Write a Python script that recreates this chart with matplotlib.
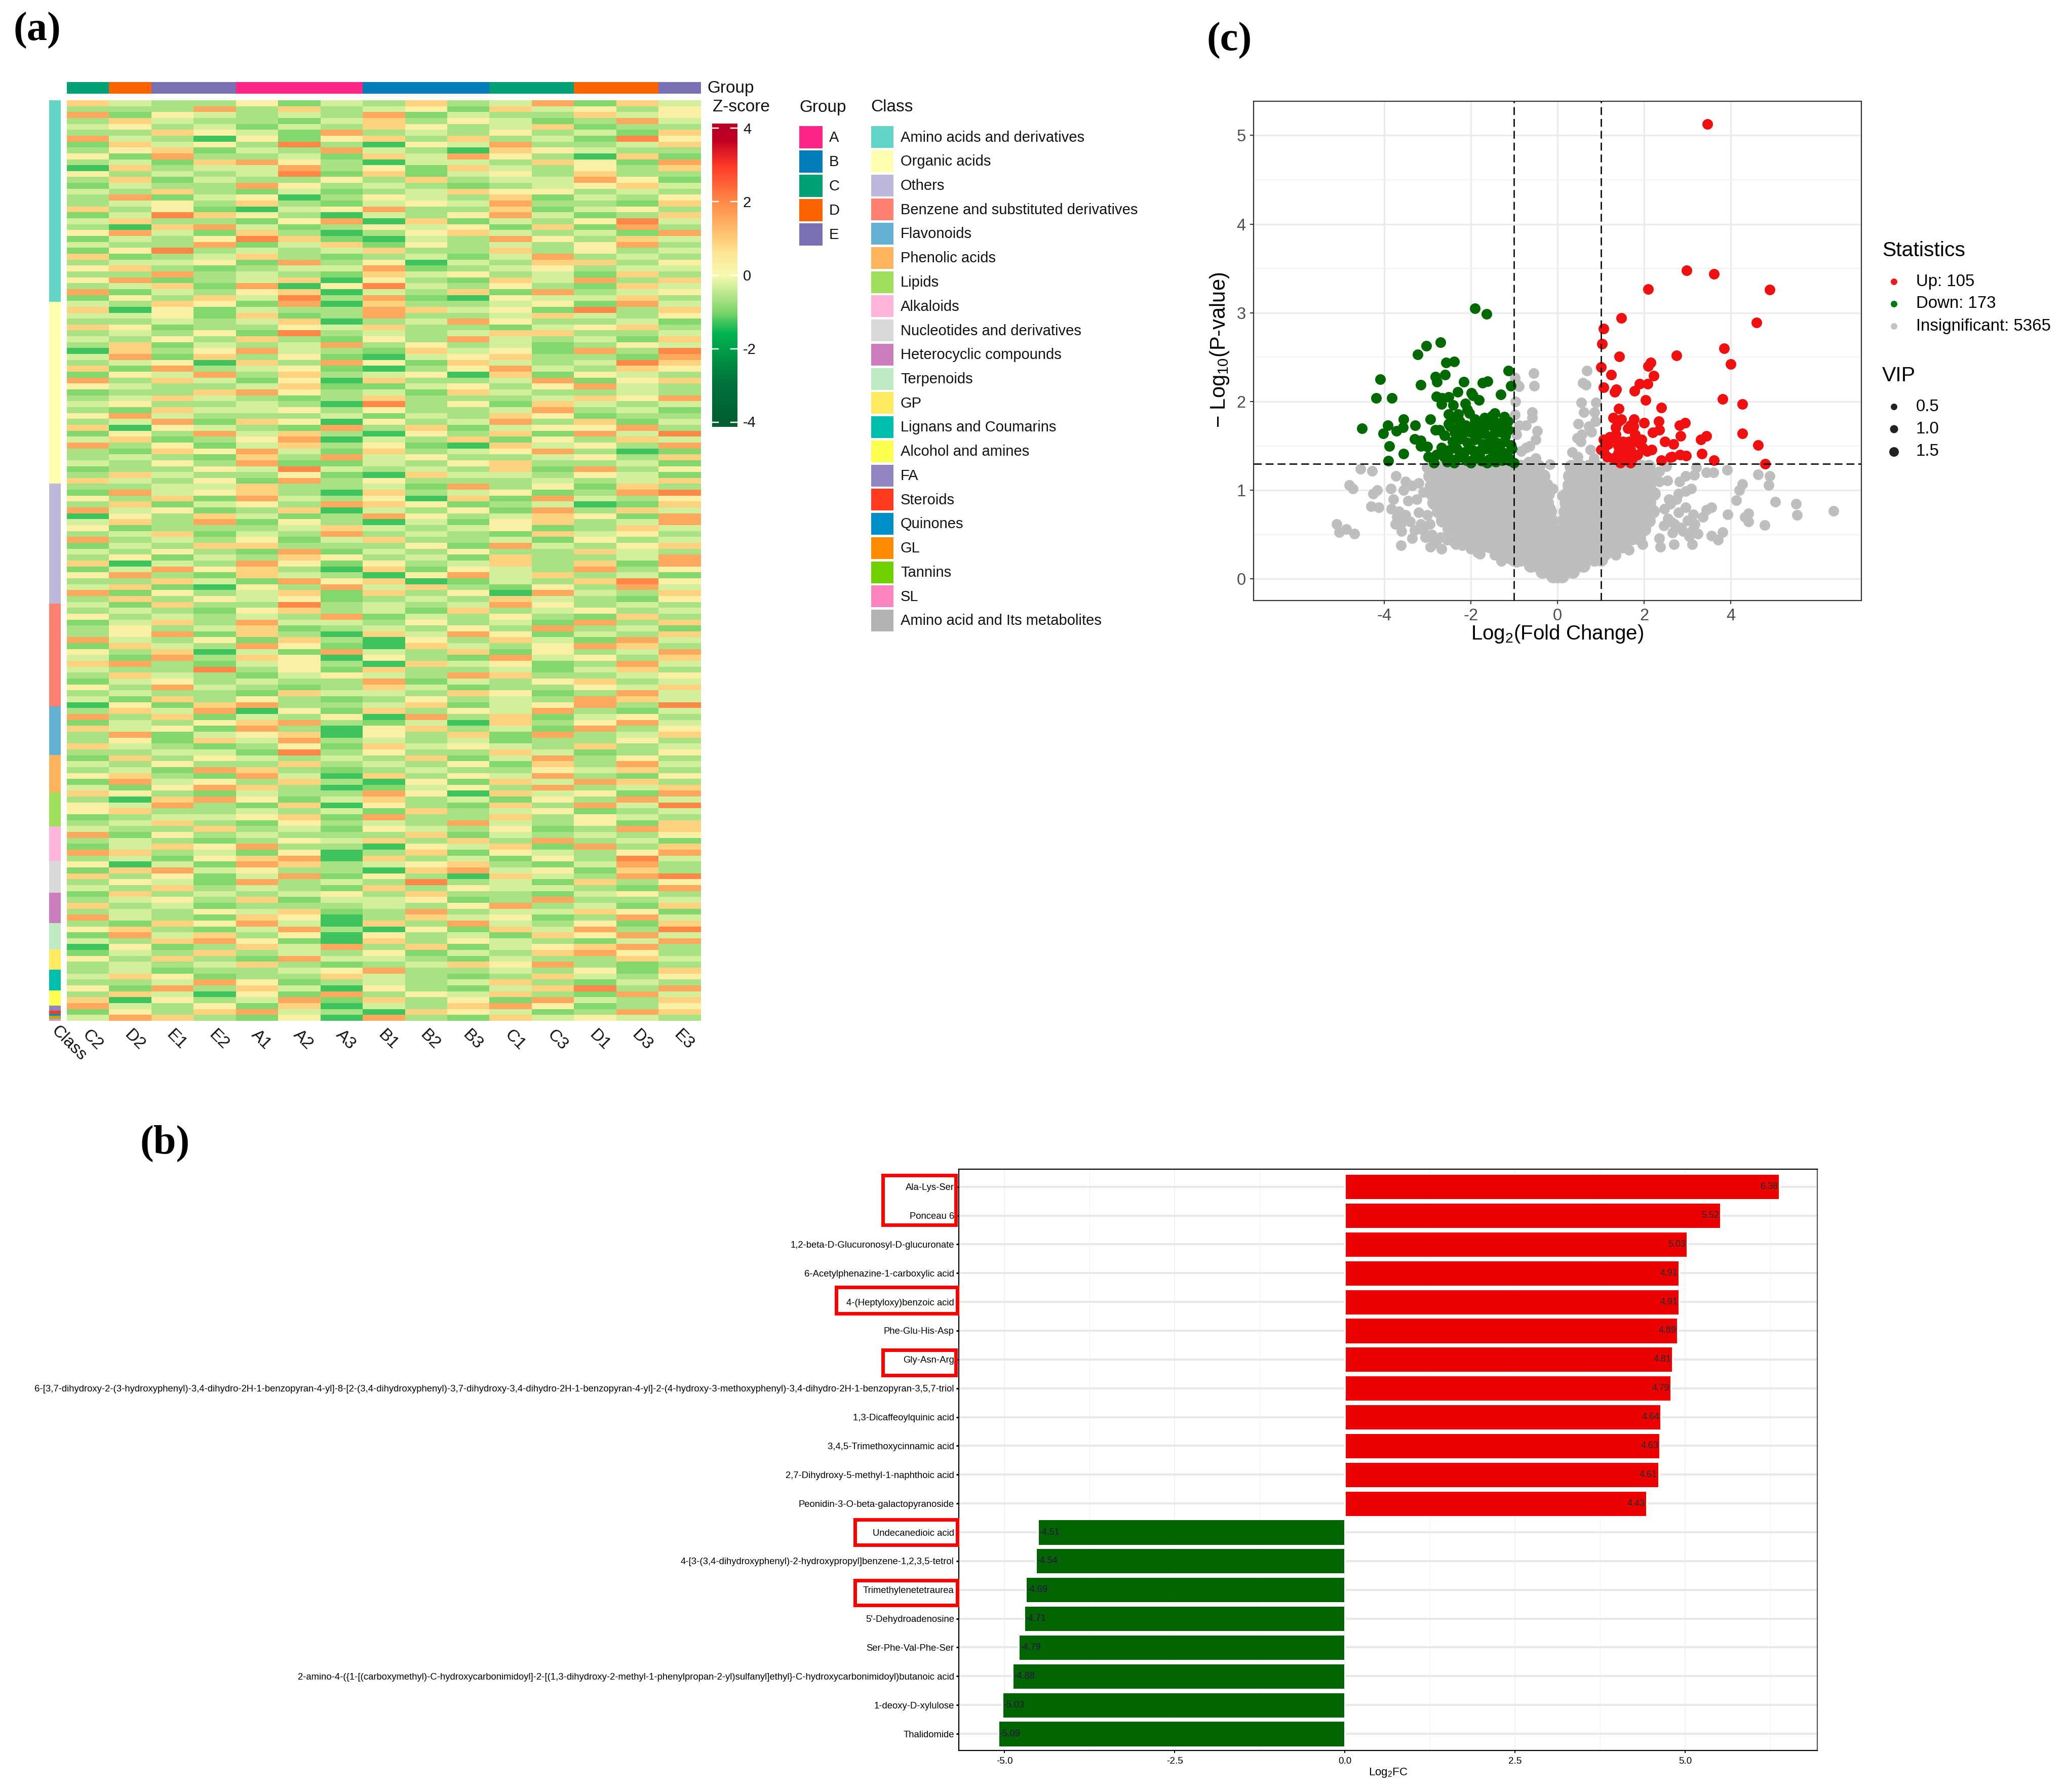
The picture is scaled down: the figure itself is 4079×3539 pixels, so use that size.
import numpy as np
import matplotlib
matplotlib.use("Agg")
import matplotlib.pyplot as plt
from matplotlib.colors import LinearSegmentedColormap, Normalize, ListedColormap
from matplotlib.patches import Rectangle

plt.rcParams['font.family'] = ['Liberation Sans', 'DejaVu Sans']
plt.rcParams['mathtext.fontset'] = 'custom'
plt.rcParams['mathtext.rm'] = 'Liberation Sans'
plt.rcParams['mathtext.default'] = 'regular'
plt.rcParams['axes.unicode_minus'] = False

W, H = 4080, 3539
PX = 0.72  # one output pixel in points at dpi 100

# ---------- (a) heatmap data ----------
samples = ["C2","D2","E1","E2","A1","A2","A3","B1","B2","B3","C1","C3","D1","D3","E3"]
sample_groups = ["C","D","E","E","A","A","A","B","B","B","C","C","D","D","E"]
group_names = ["A","B","C","D","E"]
group_colors = ["#FF2488","#007CB8","#00A075","#FB6200","#7970B4"]
class_names = ["Amino acids and derivatives","Organic acids","Others","Benzene and substituted derivatives",
    "Flavonoids","Phenolic acids","Lipids","Alkaloids","Nucleotides and derivatives","Heterocyclic compounds",
    "Terpenoids","GP","Lignans and Coumarins","Alcohol and amines","FA","Steroids","Quinones","GL","Tannins","SL",
    "Amino acid and Its metabolites"]
class_counts = [1235,1114,735,630,298,230,208,211,195,186,161,127,127,93,31,19,12,9,9,9,3]
class_colors = ["#62D5C8","#FFFFB0","#BEB8DA","#FF7F70","#64B0D3","#FFB35C","#A0E05C","#FFB4D9","#D9D9D9","#CB7DBE",
    "#BEEBC4","#FFEA60","#00BFAE","#FFFF50","#9085C0","#FF3A20","#008FC8","#FF8A00","#70D000","#FF85C0","#B3B3B3"]
# estimated stripe levels, one string per row, one digit per sample (top to bottom); index into z_levels
z_levels = [-1.9,-1.3,-0.95,-0.65,-0.3,0.3,0.9,1.5,2.0,2.8]
heat_rows = """
643352436347264 333736345264535 725434372433645 364332463542374 453424365346233 336542734353426
743152563634285 264538315473346 356243743165433 527334264753162 342675314436527 163447352643536
534348262453633 362433536344752 243375343234564 436324234655343 372451354362435 345363245473326
635214573362453 248653143574236 463325716243584 316742354526273 574263135643427 243586214375364
433724625343573 258343463363534 623463234247343 344527351436635 563234472345344 337343264534263
572346153264736 346271584353264 724356143627345 253648372154463 436527163345274 615243376452836
445262373346435 334346134753342 652335463324563 343528343466334 435363253743426 362434735342354
163574326452738 472635214563327 345163752643486 627345213574365 254736345162543 736425163347256
543346224535743 233675342643343 346432363334657 453343183526434 326445353347342 574333424365233
347265153473624 615432736245573 253746315362748 462357143625364 735246352164537 326574263457312
343263745334536 435372243563342 233548434362735 364335216443542 643527353334346 334463342735263
274563163452378 536274351627435 362453765234126 745236143527364 153642375346527 463725314256347
523334643452364 346243734326453 734352463342534 243663335274356 435327243533643 352436534263347
614375253463627 247563162543735 573264315746342 336427561243685 462153746325374 725346263517436
363545234364325 426338343475343 343256342634534 534343724353263 246374435342736 353462343537342
357263164752436 743526315364274 264375216435763 536142743625347 427365153274536 673245316452374
433835263342463 364324543763345 245343372435634 537432364233546 343326443652374 426353235343764
152673346245738 364715263547324 736243517362453 243567324163574 645273156342735 372456153627346
352647343423353 643235264543634 334428353364235 263543436247353 435336343526374 342763234335463
563274163547325 274536315264763 425763124537346 653243375164527 316752463425374 547326153263748
563343426345234 234456273363543 346325343743526 433634254352376 725343336243435 343235463637342
246573315462736 763425136254357 342567163425384 514276345632473 267453316745263 635247253164378
354273438342635 436343263544327 263434536332453 345362445237334 634233343573426 343546237344652
743265136452374 326574163743526 563247315264738 274635153426574 436752163543247 152364736245673
243634352436753 536327443243364 343463234657323 342334573343526 465233643236435 334752343463243
527364153246837 364152735463274 615347263527436 743526143675235 253674316542376 476325173264543
"""
heat_rows = heat_rows.split()

cmap_z = LinearSegmentedColormap.from_list("zscore", [
    (0.000,"#005F2E"),(0.125,"#00703A"),(0.300,"#00B34F"),(0.375,"#7ED66A"),
    (0.500,"#F7FAB0"),(0.575,"#FFE596"),(0.625,"#FFCC78"),(0.750,"#FF8A48"),
    (0.875,"#FF3A28"),(0.962,"#C00022"),(1.000,"#B80024")])

# ---------- (b) bar chart data ----------
bar_names = ["Ala-Lys-Ser","Ponceau 6","1,2-beta-D-Glucuronosyl-D-glucuronate","6-Acetylphenazine-1-carboxylic acid",
    "4-(Heptyloxy)benzoic acid","Phe-Glu-His-Asp","Gly-Asn-Arg",
    "6-[3,7-dihydroxy-2-(3-hydroxyphenyl)-3,4-dihydro-2H-1-benzopyran-4-yl]-8-[2-(3,4-dihydroxyphenyl)-3,7-dihydroxy-3,4-dihydro-2H-1-benzopyran-4-yl]-2-(4-hydroxy-3-methoxyphenyl)-3,4-dihydro-2H-1-benzopyran-3,5,7-triol",
    "1,3-Dicaffeoylquinic acid","3,4,5-Trimethoxycinnamic acid","2,7-Dihydroxy-5-methyl-1-naphthoic acid",
    "Peonidin-3-O-beta-galactopyranoside","Undecanedioic acid","4-[3-(3,4-dihydroxyphenyl)-2-hydroxypropyl]benzene-1,2,3,5-tetrol",
    "Trimethylenetetraurea","5'-Dehydroadenosine","Ser-Phe-Val-Phe-Ser",
    "2-amino-4-({1-[(carboxymethyl)-C-hydroxycarbonimidoyl]-2-[(1,3-dihydroxy-2-methyl-1-phenylpropan-2-yl)sulfanyl]ethyl}-C-hydroxycarbonimidoyl)butanoic acid",
    "1-deoxy-D-xylulose","Thalidomide"]
bar_values = [6.38,5.52,5.03,4.91,4.91,4.89,4.81,4.79,4.64,4.63,4.61,4.43,-4.51,-4.54,-4.69,-4.71,-4.79,-4.88,-5.03,-5.09]
bar_ticks = [-5.0,-2.5,0.0,2.5,5.0]

# ---------- (c) volcano data ----------
up_x = [3.46,2.98,3.61,4.89,2.09,1.47,4.59,1.06,1.03,3.84,1.42,2.74,2.15,2.09,4.0,1.0,1.24,2.22,1.89,2.08,1.06,1.35,1.32,1.78,3.81,2.03,4.26,2.40,1.41,
        2.95,2.82,2.34,2.0,1.77,1.29,1.41,1.68,1.34,2.35,2.2,4.26,3.43,3.31,2.84,2.48,2.67,4.63,3.33,3.61,4.79,2.97,2.83,2.64,2.39,1.94,1.79,2.07,1.9,1.65,
        1.40,1.51,1.28,1.06,1.06,1.14,1.73,1.68,1.51,1.40,1.17,1.62,1.79,2.17,1.01,1.96,1.56,1.34,1.68,1.28,1.45,1.68,1.20,1.55,1.85,1.10,2.60,1.75,1.47]
up_y = [5.13,3.48,3.44,3.26,3.27,2.94,2.89,2.82,2.65,2.60,2.51,2.52,2.44,2.40,2.42,2.39,2.30,2.29,2.20,2.20,2.16,2.14,2.11,2.12,2.03,2.02,1.97,1.93,1.92,
        1.76,1.73,1.78,1.76,1.80,1.82,1.78,1.73,1.71,1.68,1.65,1.64,1.61,1.57,1.61,1.55,1.52,1.51,1.41,1.34,1.30,1.39,1.40,1.38,1.34,1.57,1.59,1.44,1.52,1.55,
        1.50,1.55,1.59,1.57,1.44,1.38,1.36,1.46,1.36,1.42,1.52,1.70,1.63,1.46,1.46,1.48,1.48,1.63,1.52,1.36,1.31,1.31,1.60,1.42,1.40,1.50,1.37,1.72,1.80]
down_x = [-1.91,-1.64,-2.70,-3.03,-3.23,-2.38,-2.57,-1.13,-2.59,-2.82,-4.09,-2.78,-3.15,-2.16,-1.61,-1.73,-1.08,-2.30,-1.99,-1.95,-1.31,-4.18,-3.82,-2.79,-2.66,-2.51,-1.81,-2.68,-2.41,-2.13,
          -2.08,-2.03,-2.51,-2.29,-1.45,-1.23,-1.68,-1.51,-2.93,-3.55,-4.51,-3.91,-3.28,-3.56,-3.72,-4.02,-2.82,-2.51,-2.2,-1.98,-3.30,-3.16,-3.16,-3.88,-3.0,-3.55,-3.9,-2.98,-2.79,
          -2.62,-2.45,-2.28,-2.1,-1.92,-1.75,-1.58,-1.42,-1.27,-1.12,-1.05,-2.68,-2.5,-2.33,-2.15,-1.98,-1.82,-1.65,-1.48,-1.32,-1.17,-2.42,-2.25,-2.08,-1.9,-1.72,-1.55,-1.38,-1.22,-1.08,
          -2.6,-2.37,-2.2,-2.02,-1.85,-1.68,-1.5,-1.35,-1.2,-2.72,-2.48,-2.3,-2.12,-1.95,-1.78,-1.6,-1.45,-1.28,-1.13,-2.55,-2.38,-2.18,-2.0,-1.8,-1.62,-1.43,-1.25,-1.1,-1.55,-1.7,-1.4,-1.6,-1.48,-1.35,
          -2.85,-2.4,-2.25,-1.9,-1.72,-1.52,-1.15,-1.0]
down_y = [3.05,2.99,2.67,2.63,2.53,2.45,2.44,2.35,2.30,2.28,2.25,2.22,2.19,2.22,2.23,2.21,2.18,2.11,2.10,2.07,2.08,2.04,2.04,2.06,2.04,2.05,2.02,1.97,1.96,1.98,
          1.91,1.87,1.86,1.86,1.87,1.83,1.82,1.84,1.80,1.80,1.70,1.73,1.73,1.71,1.67,1.64,1.68,1.75,1.74,1.72,1.58,1.56,1.50,1.50,1.49,1.41,1.33,1.38,1.40,
          1.38,1.35,1.37,1.34,1.36,1.33,1.35,1.38,1.34,1.36,1.47,1.48,1.45,1.47,1.43,1.46,1.44,1.47,1.43,1.45,1.42,1.55,1.58,1.54,1.57,1.52,1.56,1.53,1.55,1.51,
          1.62,1.65,1.63,1.66,1.61,1.64,1.62,1.66,1.61,1.68,1.72,1.70,1.73,1.69,1.71,1.74,1.70,1.73,1.68,1.32,1.31,1.40,1.31,1.40,1.31,1.32,1.40,1.33,1.78,1.78,1.76,1.50,1.52,1.49,
          1.31,1.81,1.78,1.80,1.78,1.80,1.78,1.31]
# scattered insignificant points outside the solid cloud
gray_x = [-0.55,-0.54,-0.98,-0.92,-0.89,-0.97,-0.59,-0.58,-0.98,-0.89,-0.73,-0.47,-0.95,-0.5,-0.64,-0.73,-0.5,-0.84,-0.67,-0.17,
          0.68,0.59,0.66,0.55,0.89,0.61,0.85,0.88,0.48,0.73,0.78,0.45,0.56,0.54,0.76,0.34,0.47,0.84,
          -4.54,-4.28,-3.73,-4.8,-4.72,-3.84,-4.16,-4.25,-3.79,-4.3,-4.12,-3.83,-5.09,-5.03,-4.87,-4.69,-3.66,-3.5,-3.7,-3.74,-3.6,-3.61,-3.35,-3.6,-3.3,-3.4,-3.5,-3.35,-3.55,-3.2,-3.1,-3.25,-3.45,-2.95,-3.02,-2.94,-3.0,-2.9,-2.93,-2.8,-3.2,-2.95,-3.15,-2.68,-2.35,-1.79,-1.45,-1.12,
          6.37,5.5,5.53,5.02,4.9,4.87,4.63,4.26,4.2,4.13,3.91,3.6,3.44,3.2,3.15,2.96,2.82,3.09,2.96,2.79,4.41,4.41,4.32,4.78,3.92,3.55,3.44,3.35,3.17,3.13,3.24,3.55,3.7,3.81,3.11,2.69,3.04,2.35,2.37,2.65,2.9,2.63,2.46,2.79,2.96,3.13,2.57,2.35,2.53,2.26,2.51,2.35,2.12,1.56,1.65,1.34,1.96,
          2.6,2.75,2.55,2.7,2.45,2.85,3.0,-3.05,-2.85,-3.1,-2.7,-2.55,-2.4,-2.2,-2.0,-1.85,-1.3,-0.95,-0.1,0.1,-0.18,0.17,-0.13,0.12]
gray_y = [2.32,2.18,2.27,2.19,2.17,2.0,1.88,1.82,1.85,1.73,1.73,1.67,1.63,1.57,1.5,1.48,1.36,1.44,1.32,1.29,
          2.35,2.21,2.19,1.99,1.99,1.88,1.88,1.78,1.75,1.72,1.66,1.59,1.63,1.55,1.46,1.43,1.38,1.36,
          1.24,1.22,1.16,1.06,1.02,1.02,1.0,.96,.9,.82,.81,.79,.62,.53,.56,.51,.76,.72,.7,.62,.63,.38,.46,.54,.55,.65,1.1,1.05,1.0,1.08,.98,.9,.88,1.05,1.26,1.2,.72,.5,.36,.4,.75,.62,.62,.34,.39,.28,.27,.23,
          .77,.85,.72,.87,1.16,1.06,1.18,1.07,1.0,.89,1.23,1.2,1.2,1.26,1.17,1.16,1.1,1.02,.99,.96,.74,.65,.7,.61,.73,.81,.78,.7,.62,.56,.51,.49,.44,.53,.39,.39,.48,.46,.36,.52,.54,.64,.79,.75,.81,.73,.9,1.1,1.11,1.15,1.27,1.21,1.04,.37,.33,.27,.39,
          .85,.9,.68,.62,.6,.58,.66,.47,.42,.55,.47,.44,.42,.38,.34,.3,.2,.19,1.02,.94,.8,.72,.62,.5]
# solid insignificant cloud, listed as (-log10 p, fold-change values)
gray_rows = [
 (1.27,[-2.85,-2.62,-2.44,-2.25,-2.03,-1.85,-1.66,-1.44,-1.25,-1.06,-.84,-.66,-.44,.32,.52,.73,.91,1.13,1.32,1.52,1.73,1.92,2.1]),
 (1.16,[-2.95,-2.75,-2.55,-2.33,-2.16,-1.95,-1.74,-1.56,-1.35,-1.14,-.95,-.74,-.55,-.33,.28,.42,.63,.82,1.03,1.22,1.43,1.62,1.83,2.02,2.2]),
 (1.06,[-2.85,-2.64,-2.45,-2.24,-2.05,-1.84,-1.65,-1.46,-1.24,-1.05,-.86,-.64,-.45,-.26,.27,.53,.72,.93,1.12,1.33,1.52,1.73,1.93,2.12]),
 (0.96,[-2.9,-2.75,-2.54,-2.36,-2.14,-1.96,-1.75,-1.54,-1.34,-1.16,-.94,-.75,-.54,-.35,-.22,.22,.43,.62,.83,1.02,1.22,1.43,1.63,1.82,2.03,2.22]),
 (0.86,[-2.85,-2.65,-2.46,-2.24,-2.05,-1.84,-1.66,-1.45,-1.24,-1.05,-.84,-.65,-.46,-.24,.2,.33,.52,.73,.92,1.13,1.33,1.52,1.72,1.93,2.12]),
 (0.76,[-2.75,-2.55,-2.35,-2.15,-1.94,-1.75,-1.56,-1.34,-1.15,-.95,-.74,-.55,-.35,-.18,.18,.42,.62,.83,1.03,1.22,1.42,1.63,1.82,2.03,2.2]),
 (0.66,[-2.65,-2.45,-2.26,-2.05,-1.84,-1.65,-1.44,-1.25,-1.05,-.84,-.65,-.45,-.25,-.14,.14,.33,.52,.72,.93,1.12,1.32,1.53,1.73,1.92,2.1]),
 (0.56,[-2.5,-2.35,-2.16,-1.95,-1.74,-1.55,-1.35,-1.14,-.95,-.75,-.54,-.35,-.13,.12,.22,.42,.63,.82,1.03,1.22,1.42,1.63,1.82,2.0]),
 (0.46,[-2.3,-2.05,-1.85,-1.65,-1.44,-1.25,-1.05,-.85,-.65,-.44,-.25,-.1,.1,.33,.52,.73,.92,1.12,1.33,1.53,1.72,1.88]),
 (0.37,[-1.9,-1.75,-1.55,-1.35,-1.16,-.95,-.75,-.54,-.35,-.16,-.06,.06,.22,.42,.63,.82,1.02,1.23,1.5]),
 (0.29,[-1.3,-1.15,-.95,-.75,-.55,-.35,-.2,-.05,.05,.17,.33,.52,.72,.93,1.1]),
 (0.22,[-1.0,-.85,-.65,-.45,-.28,-.12,0.0,.12,.28,.45,.65,.85,1.0]),
 (0.15,[-.62,-.45,-.28,-.12,0.0,.12,.28,.45,.6]),
 (0.08,[-.35,-.2,-.08,.08,.2,.35]),
 (0.03,[-.1,0.0,.1]),
]
vol_yticks = [0,1,2,3,4,5]
vol_xticks = [-4,-2,0,2,4]
fc_cut = 1
p_cut = 1.3

fig = plt.figure(figsize=(W/100, H/100), dpi=100, facecolor="white")

def ax_px(x0, y0, x1, y1, **kw):
    return fig.add_axes([x0/W, 1-y1/H, (x1-x0)/W, (y1-y0)/H], **kw)

# ---------- panel a ----------
ax = ax_px(132, 198, 1384, 2016)
M = np.array([[z_levels[int(c)] for c in r] for r in heat_rows])
ax.imshow(M, aspect="auto", cmap=cmap_z, norm=Normalize(-4, 4), interpolation="nearest")
ax.axis("off")

ax = ax_px(132, 162, 1384, 185)
gi = [group_names.index(g) for g in sample_groups]
ax.imshow([gi], aspect="auto", cmap=ListedColormap(group_colors), vmin=-.5, vmax=4.5, interpolation="nearest")
ax.axis("off")

ax = ax_px(97, 198, 120, 2016)
ax.bar(0, class_counts, bottom=np.r_[0, np.cumsum(class_counts)[:-1]], width=1, color=class_colors, linewidth=0)
ax.set_xlim(-.5, .5); ax.set_ylim(sum(class_counts), 0); ax.axis("off")

ax = ax_px(1406, 244, 1456, 843)
grad = np.linspace(4.13, -4.13, 512)[:, None]
ax.imshow(grad, aspect="auto", cmap=cmap_z, norm=Normalize(-4, 4), extent=[0, 1, -4.13, 4.13])
for v in [-4, -2, 0, 2, 4]:
    ax.plot([0, .25], [v, v], color="white", lw=2.5*PX)
    ax.plot([.75, 1], [v, v], color="white", lw=2.5*PX)
ax.set_xlim(0, 1); ax.set_ylim(-4.13, 4.13); ax.axis("off")

# ---------- panel c ----------
ax = ax_px(2475, 200, 3675, 1186)
ax.set_xlim(-7.01, 7.01); ax.set_ylim(-0.243, 5.385)
ax.set_axisbelow(True)
ax.set_xticks(vol_xticks); ax.set_yticks(vol_yticks)
ax.set_yticks([.5, 1.5, 2.5, 3.5, 4.5], minor=True)
ax.grid(True, which="major", color="#EBEBEB", lw=3.2*PX)
ax.grid(True, which="minor", axis="y", color="#F0F0F0", lw=1.6*PX)
ax.tick_params(which="minor", length=0)
ax.tick_params(which="major", labelsize=23.5, labelcolor="#4D4D4D", color="#333333", width=2*PX, length=7*PX, pad=6)
for s in ax.spines.values():
    s.set_color("#333333"); s.set_linewidth(2.2*PX)
core_x = []; core_y = []
for yy, xs in gray_rows:
    core_x += xs; core_y += [yy]*len(xs)
ax.scatter(gray_x, gray_y, s=21**2*PX**2, color="#BEBEBE", linewidths=0, zorder=2)
ax.scatter(core_x, core_y, s=27**2*PX**2, color="#BEBEBE", linewidths=0, zorder=2)
ax.scatter(down_x, down_y, s=21**2*PX**2, color="#006A00", linewidths=0, zorder=3)
ax.scatter(up_x, up_y, s=21**2*PX**2, color="#F01010", linewidths=0, zorder=3)
for v in [-fc_cut, fc_cut]:
    ax.axvline(v, color="black", lw=2.6*PX, dashes=(6, 3), zorder=4)
ax.axhline(p_cut, color="black", lw=2.6*PX, dashes=(6, 3), zorder=4)

# ---------- panel b ----------
ax = ax_px(1893, 2309, 3588, 3457)
ypos = np.arange(len(bar_values))
ax.set_xlim(-5.67, 6.94); ax.set_ylim(len(bar_values)-1+.58, -.61)
ax.set_axisbelow(True)
ax.set_xticks(bar_ticks); ax.set_xticklabels([f"{t:.1f}" for t in bar_ticks])
ax.set_xticks([-3.75, -1.25, 1.25, 3.75, 6.25], minor=True)
ax.set_yticks(ypos); ax.set_yticklabels(bar_names)
ax.grid(True, which="major", axis="x", color="#EEEEEE", lw=1.6*PX)
ax.grid(True, which="minor", axis="x", color="#F2F2F2", lw=1.4*PX)
ax.grid(True, which="major", axis="y", color="#E8E8E8", lw=4*PX)
ax.tick_params(which="minor", length=0)
ax.tick_params(axis="y", labelsize=13.3, width=3*PX, length=5*PX, pad=3)
ax.tick_params(axis="x", labelsize=13.6, width=2*PX, length=5*PX, pad=6)
colors = ["#EE0000" if v > 0 else "#006400" for v in bar_values]
ax.barh(ypos, bar_values, height=.9, color=colors, edgecolor="white", linewidth=3*PX, zorder=2)
for y, v in zip(ypos, bar_values):
    if v > 0:
        ax.text(v-.02, y, f"{v:.2f}", ha="right", va="center", fontsize=13, color="#1E2E2E", zorder=3)
    else:
        ax.text(v+.02, y, f"{v:.2f}", ha="left", va="center", fontsize=13, color="#30104A", zorder=3)
for s in ax.spines.values():
    s.set_color("black"); s.set_linewidth(2.2*PX)
ax.spines["right"].set_color("#555555")

# ---------- overlay: text, legends, boxes ----------
ov = ax_px(0, 0, W, H)
ov.set_xlim(0, W); ov.set_ylim(H, 0); ov.axis("off"); ov.patch.set_alpha(0)

def T(x, y, s, size, **kw):
    kw.setdefault("va", "center"); kw.setdefault("ha", "left")
    ov.text(x, y, s, fontsize=size, **kw)

T(27, 60, "(a)", 58, family="Liberation Serif", fontweight="bold")
T(277, 2258, "(b)", 58, family="Liberation Serif", fontweight="bold")
T(2383, 80, "(c)", 58, family="Liberation Serif", fontweight="bold")

# heatmap labels
colw = (1384-132)/len(samples)
for i, s in enumerate(samples):
    ov.text(132+colw*(i+.5)+4, 2028, s, fontsize=24, rotation=-45, ha="left", va="top",
            rotation_mode="anchor", color="#111111")
ov.text(117, 2020, "Class", fontsize=24, rotation=-45, ha="left", va="top", rotation_mode="anchor", color="#111111")
T(1396, 175, "Group", 24, color="#111111")
T(1407, 212, "Z-score", 24, color="#111111")
for v, y in zip([4, 2, 0, -2, -4], [256, 401, 546, 691, 835]):
    T(1467, y, str(v), 21, color="#111111")
T(1578, 212, "Group", 24, color="#111111")
for i, (n, c) in enumerate(zip(group_names, group_colors)):
    ov.add_patch(Rectangle((1578, 249+48*i), 46, 44, color=c, lw=0))
    T(1637, 272+48*i, n, 21, color="#111111")
T(1719, 212, "Class", 24, color="#111111")
for i, (n, c) in enumerate(zip(class_names, class_colors)):
    ov.add_patch(Rectangle((1720, 249+47.75*i), 44, 43, color=c, lw=0))
    T(1778, 271.5+47.75*i, n, 21, color="#111111")

# volcano labels
T(3075, 1252, "Log$_2$(Fold Change)", 29, ha="center", color="black")
ov.text(2408, 691, "\u2212 Log$_{10}$(P-value)", fontsize=30, rotation=90, ha="center", va="center", color="black")
T(3716, 495, "Statistics", 29.5, color="black")
for n, c, y in zip(["Up: 105", "Down: 173", "Insignificant: 5365"], ["#F01818", "#007A10", "#C4C4C4"], [556, 600, 644]):
    ov.scatter([3739], [y], s=(13*PX)**2, color=c, linewidths=0)
    T(3783, y, n, 23.8, color="black")
T(3716, 742, "VIP", 29.5, color="black")
for n, d, y in zip(["0.5", "1.0", "1.5"], [13, 16, 19], [803, 847, 892]):
    ov.scatter([3739], [y], s=(d*PX)**2, color="#222222", linewidths=0)
    T(3783, y, n, 23.8, color="black")

# bar label
T(2741, 3501, "Log$_2$FC", 16, ha="center", color="black")

# red highlight boxes
for x0, y0, x1, y1 in [(1740, 2318, 1890, 2422), (1648, 2539, 1893, 2597), (1740, 2663, 1890, 2719),
                       (1685, 2998, 1893, 3054), (1685, 3118, 1893, 3173)]:
    ov.add_patch(Rectangle((x0+3, y0+3), x1-x0-6, y1-y0-6, fill=False, edgecolor="#FF0000", lw=7*PX))

fig.savefig("out.png", dpi=100, facecolor="white")
